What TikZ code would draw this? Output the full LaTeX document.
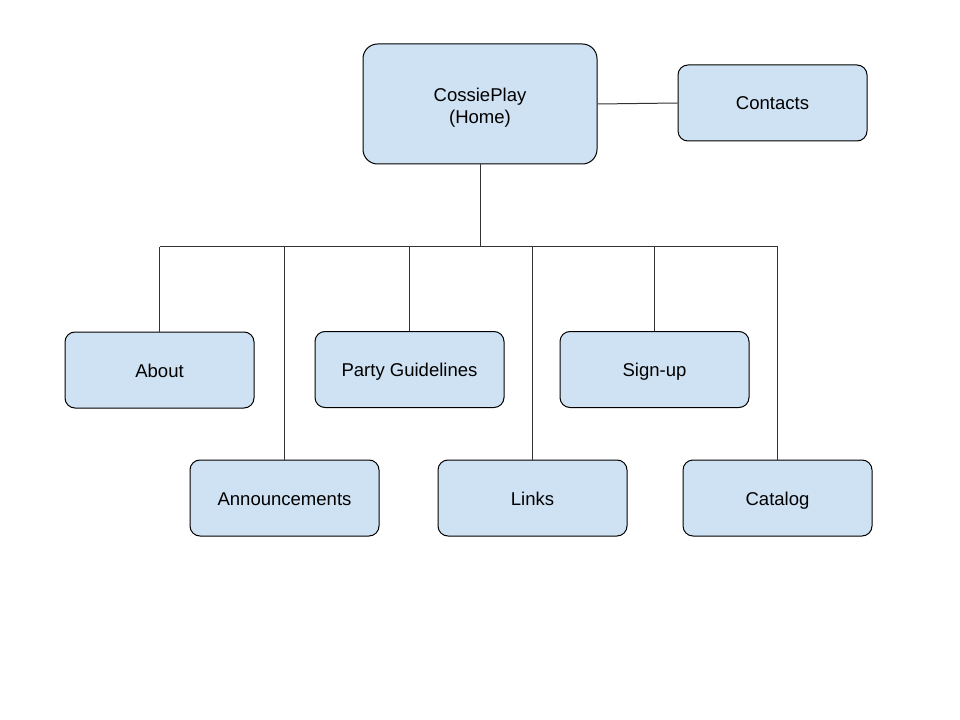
\documentclass[tikz,border=0pt]{standalone}
\usepackage{fontspec}
\setmainfont{Liberation Sans}
\usetikzlibrary{positioning}
\definecolor{pageblue}{HTML}{CFE2F3}

\tikzset{
  page/.style={draw=black,fill=pageblue,rounded corners=7.5pt,line width=0.75pt,
    minimum width=141.75pt,minimum height=57pt,inner sep=0pt,align=center,
    text height=10.5pt,text depth=0pt,
    font=\fontsize{13.9pt}{16pt}\selectfont},
  homepage/.style={page,minimum width=175.5pt,minimum height=90pt,rounded corners=11pt,
    text height=28.9pt},
  link/.style={draw=black!80,line width=0.75pt}
}

\begin{document}
\begin{tikzpicture}[x=0.75pt,y=-0.75pt]
        \useasboundingbox (0,0) rectangle (960,720);
        \node[homepage] (home) at (480,104) {CossiePlay\\(Home)};
        \node[page] (contacts) at (772.5,103) {Contacts};
        \node[page] (about) at (159.5,370) {About};
        \node[page] (party) at (409.5,369.5) {Party Guidelines};
        \node[page] (signup) at (654.5,369.5) {Sign-up};
        \node[page] (announce) at (284.5,498) {Announcements};
        \node[page] (links) at (532.5,498) {Links};
        \node[page] (catalog) at (777.5,498) {Catalog};
        \coordinate (bus) at (480,247);
        \draw[link] (home.east) -- (contacts.west);
        \draw[link] (home.south) -- (bus);
        \draw[link] (about.north |- bus) -- (catalog.north |- bus);
        \foreach \p in {about,announce,party,links,signup,catalog}
          \draw[link] (\p.north) -- (\p.north |- bus);
    \end{tikzpicture}
\end{document}
